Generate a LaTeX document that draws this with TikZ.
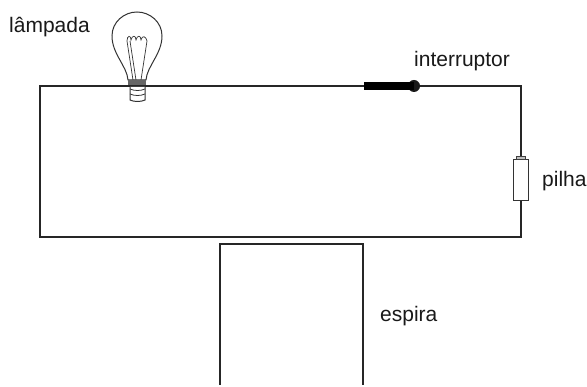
\documentclass[tikz,border=0pt]{standalone}
\usepackage{fontspec}
\setmainfont{Liberation Sans}
\tikzset{
  wire/.style={line width=1.5pt,draw=black!85},
  lbl/.style={inner sep=0pt,anchor=base west,font=\fontsize{21}{24}\selectfont,text=black!90},
  thin line/.style={line width=1pt,draw=black!80},
}
\begin{document}
\begin{tikzpicture}[x=1pt,y=-1pt]
\useasboundingbox (0,0) rectangle (587,387);
\fill[white] (0,0) rectangle (587,387);
% circuit
\coordinate (tl) at (40,86);
\coordinate (tr) at (521,86);
\coordinate (br) at (521,237);
\coordinate (bl) at (40,237);
\coordinate (swa) at (364,86);
\node[circle,fill=black!90,minimum size=12pt,inner sep=0pt] (sw) at (414,86) {};
\node[draw=black!80,line width=1pt,fill=white,minimum width=15pt,minimum height=41pt,inner sep=0pt] (bat) at (521,180) {};
\draw[wire] (sw) -- (tr) -- (bat.north);
\draw[wire] (bat.south) -- (br) -- (bl) -- (tl) -- (swa);
\draw[line width=7.5pt,draw=black] (swa) -- (sw.center);
\draw[line width=.9pt,draw=black!75,fill=black!25] (516.5,156) rectangle (525.5,159.5);
% loop
\coordinate (la) at (220,385);
\coordinate (lb) at (220,244);
\coordinate (lc) at (363,244);
\coordinate (ld) at (363,385);
\draw[wire] (la) -- (lb) -- (lc) -- (ld);
% bulb
\draw[thin line,fill=white] (128,80) .. controls (127,66) and (112,54) .. (112,36) .. controls (112,22) and (124,12) .. (137,12) .. controls (150,12) and (162,22) .. (162,36) .. controls (162,54) and (147,66) .. (146,80) -- cycle;
\draw[line width=.7pt,draw=black!80] (133,80) -- (127,41) (136,80) -- (130,41) (141,80) -- (147,41)
  (127,41) .. controls (127,35) and (131,35) .. (131,40) .. controls (132,35) and (136,35) .. (136,40) .. controls (137,35) and (141,35) .. (141,40) .. controls (142,35) and (146,36) .. (147,41);
\fill[black!60] (128,80) rectangle (146,86);
\draw[wire] (127,86) -- (147,86);
\draw[thin line,fill=white] (130,87) -- (130,100) .. controls (134,102) and (141,102) .. (145,100) -- (145,87);
\draw[line width=.8pt,draw=black!80] (130,89) .. controls (134,91) and (141,91) .. (145,89) (130,94) .. controls (134,96) and (141,96) .. (145,94);
% labels
\node[lbl] (l1) at (9,33) {lâmpada};
\node[lbl] (l2) at (414,67) {interruptor};
\node[lbl] (l3) at (542,187) {pilha};
\node[lbl] (l4) at (380,322) {espira};
\end{tikzpicture}
\end{document}
